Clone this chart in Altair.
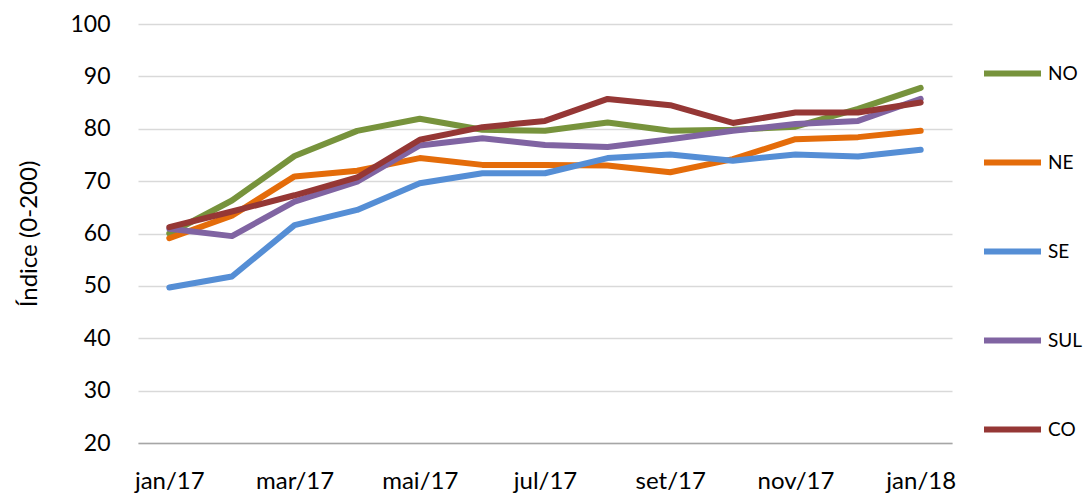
import altair as alt
import pandas as pd

months = ["jan/17", "fev/17", "mar/17", "abr/17", "mai/17", "jun/17", "jul/17",
          "ago/17", "set/17", "out/17", "nov/17", "dez/17", "jan/18"]
tick_labels = ["jan/17", "mar/17", "mai/17", "jul/17", "set/17", "nov/17", "jan/18"]

regions = ["NO", "NE", "SE", "SUL", "CO"]
colors = ["#77933C", "#E46C0A", "#558ED5", "#8064A2", "#953735"]

no_vals = [60.0, 66.3, 74.8, 79.6, 81.9, 79.8, 79.6, 81.2, 79.6, 79.8, 80.4, 83.8, 87.8]
ne_vals = [59.1, 63.4, 70.9, 72.0, 74.4, 73.1, 73.1, 73.0, 71.7, 74.2, 78.0, 78.4, 79.6]
se_vals = [49.7, 51.8, 61.6, 64.5, 69.6, 71.5, 71.5, 74.4, 75.1, 73.9, 75.1, 74.7, 76.0]
sul_vals = [60.9, 59.5, 66.1, 69.9, 76.8, 78.2, 76.9, 76.5, 78.0, 79.6, 80.9, 81.5, 85.7]
co_vals = [61.2, 64.2, 67.3, 70.7, 77.9, 80.3, 81.5, 85.7, 84.5, 81.1, 83.1, 83.1, 85.0]

series = {"NO": no_vals, "NE": ne_vals, "SE": se_vals, "SUL": sul_vals, "CO": co_vals}

rows = []
for r in regions:
    for m, v in zip(months, series[r]):
        rows.append({"mes": m, "regiao": r, "valor": v})
df = pd.DataFrame(rows)

FONT = "Lato"

chart = alt.Chart(df).mark_line(strokeWidth=6, strokeCap="round", strokeJoin="round").encode(
    x=alt.X("mes:O", sort=months, title=None,
            scale=alt.Scale(type="point", padding=0.5),
            axis=alt.Axis(values=tick_labels, labelAngle=0, domain=True, domainColor="#A6A6A6",
                          domainWidth=1.5, ticks=False, grid=False,
                          labelFontSize=24, labelColor="#000000", labelFont=FONT, labelPadding=26)),
    y=alt.Y("valor:Q", title="Índice  (0-200)",
            scale=alt.Scale(domain=[20, 100], nice=False, zero=False),
            axis=alt.Axis(values=list(range(20, 101, 10)), domain=False, ticks=False,
                          gridColor="#D9D9D9", gridWidth=1.3,
                          labelFontSize=23, labelColor="#000000", labelFont=FONT, labelPadding=28,
                          titleFontSize=24, titleFont=FONT, titleFontWeight="normal",
                          titleColor="#000000", titlePadding=28)),
    color=alt.Color("regiao:N", sort=regions,
                    scale=alt.Scale(domain=regions, range=colors),
                    legend=alt.Legend(title=None, orient="none", legendX=843, legendY=18,
                                      symbolType="stroke", symbolSize=3249, symbolStrokeWidth=6,
                                      labelFontSize=19, labelFont=FONT, labelColor="#000000",
                                      labelOffset=4, rowPadding=45, padding=0)),
).properties(
    width=814, height=419, background="#FFFFFF",
    padding={"left": 9, "top": 5, "right": 0, "bottom": 0},
).configure_view(stroke=None)

chart.save("out.html", embed_options={"renderer": "svg", "actions": False})
